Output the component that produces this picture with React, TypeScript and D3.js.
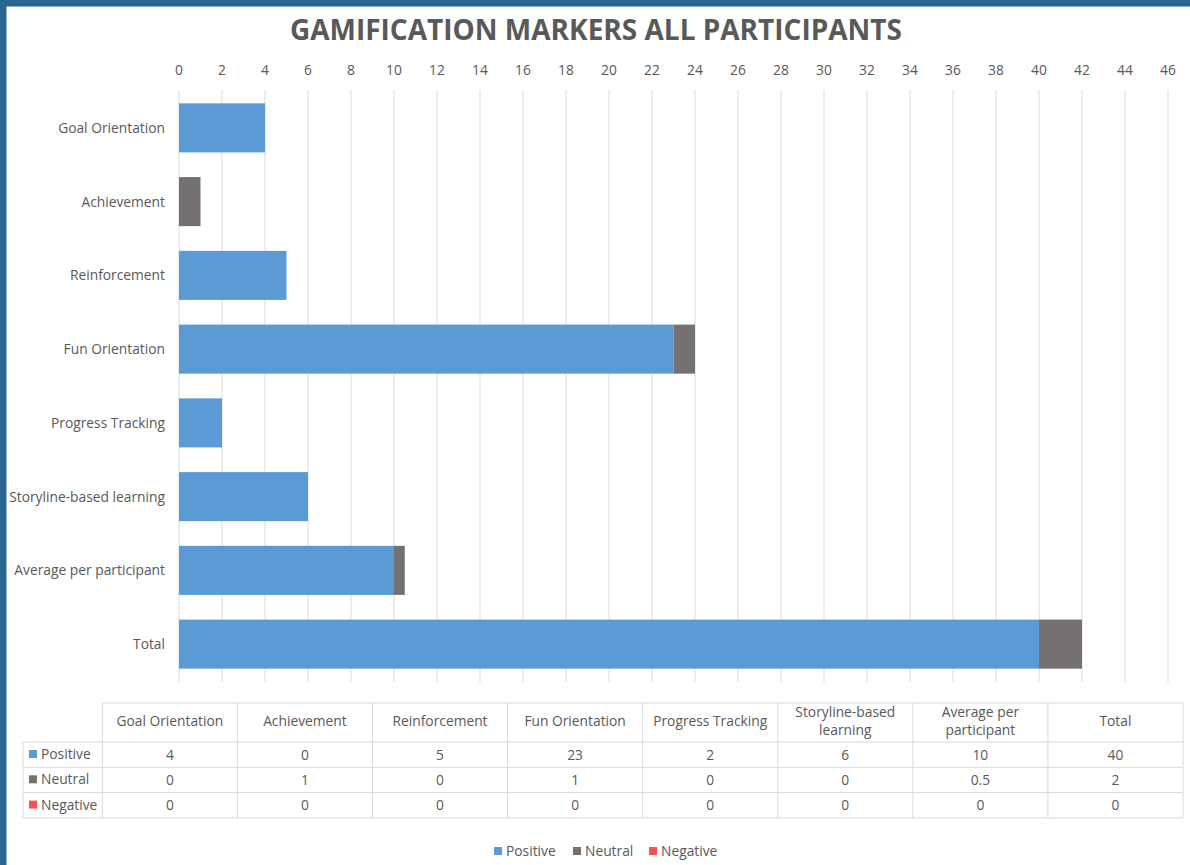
import React from "react";
import * as d3 from "d3";

const categories = [
  "Goal Orientation",
  "Achievement",
  "Reinforcement",
  "Fun Orientation",
  "Progress Tracking",
  "Storyline-based learning",
  "Average per participant",
  "Total",
];
const tableHeaders = [
  ["Goal Orientation"],
  ["Achievement"],
  ["Reinforcement"],
  ["Fun Orientation"],
  ["Progress Tracking"],
  ["Storyline-based", "learning"],
  ["Average per", "participant"],
  ["Total"],
];
const positive = [4, 0, 5, 23, 2, 6, 10, 40];
const neutral = [0, 1, 0, 1, 0, 0, 0.5, 2];
const negative = [0, 0, 0, 0, 0, 0, 0, 0];
const seriesNames = ["Positive", "Neutral", "Negative"];
const seriesColors = ["#5B9BD5", "#767171", "#FF4F4F"];
const xTicks = d3.range(0, 47, 2);
const title = "GAMIFICATION MARKERS ALL PARTICIPANTS";

const W = 1190;
const H = 865;
const FONT = "'Open Sans', sans-serif";
const TXT = "#595959";
const GRID = "#D9D9D9";

export default function App() {
  const x = d3.scaleLinear().domain([0, 46]).range([179, 1168]);
  const y = d3.scaleBand<string>().domain(categories).range([91, 681]).paddingInner(0.335).paddingOuter(0.1675);
  const series = [positive, neutral, negative];
  const stacked = categories.map((_, i) => {
    let acc = 0;
    return series.map((s) => {
      const x0 = acc;
      acc += s[i];
      return [x0, acc];
    });
  });

  const colX = d3.scaleBand<number>().domain(d3.range(8)).range([102.3, 1183]);
  const tableTop = 703;
  const headerBottom = 742;
  const rowH = 25.3;
  const legendLeft = 23;

  const legendItems = seriesNames.map((n, i) => ({ n, c: seriesColors[i] }));
  const legendWidths = [66, 63, 75];
  const legendStart = 494;

  return (
    <div style={{ position: "absolute", left: 0, top: 0 }}>
      <svg width={W} height={H} style={{ display: "block", fontFamily: FONT }}>
        <rect x={0} y={0} width={W} height={H} fill="#fff" />
        <rect x={0} y={0} width={W} height={6.5} fill="#286591" />
        <rect x={0} y={0} width={6.5} height={H} fill="#286591" />
        <text x={596} y={40} textAnchor="middle" fontSize={28} fontWeight={700} fill={TXT}>
          {title}
        </text>
        {xTicks.map((t) => (
          <g key={t}>
            <line x1={x(t)} x2={x(t)} y1={90} y2={682} stroke={GRID} strokeWidth={1} />
            <text x={x(t)} y={75} textAnchor="middle" fontSize={13.8} fill={TXT}>
              {t}
            </text>
          </g>
        ))}
        {categories.map((c, i) => (
          <g key={c}>
            {stacked[i].map(([a, b], k) =>
              b > a ? (
                <rect
                  key={k}
                  x={x(a)}
                  y={y(c)!}
                  width={x(b) - x(a)}
                  height={y.bandwidth()}
                  fill={seriesColors[k]}
                />
              ) : null
            )}
            <text x={165} y={y(c)! + y.bandwidth() / 2 + 5} textAnchor="end" fontSize={13.8} fill={TXT}>
              {c}
            </text>
          </g>
        ))}
        {/* data table */}
        <g stroke={GRID} strokeWidth={1} fill="none">
          <line x1={102.3} x2={1183} y1={tableTop} y2={tableTop} />
          {d3.range(4).map((r) => (
            <line key={r} x1={legendLeft} x2={1183} y1={headerBottom + r * rowH} y2={headerBottom + r * rowH} />
          ))}
          <line x1={legendLeft} x2={legendLeft} y1={headerBottom} y2={headerBottom + 3 * rowH} />
          {d3.range(9).map((k) => {
            const xx = k < 8 ? colX(k)! : 1183;
            return <line key={k} x1={xx} x2={xx} y1={tableTop} y2={headerBottom + 3 * rowH} />;
          })}
        </g>
        {tableHeaders.map((h, k) => (
          <text key={k} x={colX(k)! + colX.bandwidth() / 2} textAnchor="middle" fontSize={13.8} fill={TXT}>
            {h.map((line, j) => (
              <tspan key={j} x={colX(k)! + colX.bandwidth() / 2} y={h.length === 1 ? 726 : 717 + j * 18}>
                {line}
              </tspan>
            ))}
          </text>
        ))}
        {series.map((s, r) => (
          <g key={r}>
            <rect x={29} y={headerBottom + r * rowH + 8} width={8} height={8} fill={seriesColors[r]} />
            <text x={41} y={headerBottom + r * rowH + 17} fontSize={13.8} fill={TXT}>
              {seriesNames[r]}
            </text>
            {s.map((v, k) => (
              <text
                key={k}
                x={colX(k)! + colX.bandwidth() / 2}
                y={headerBottom + r * rowH + 17.5}
                textAnchor="middle"
                fontSize={13.8}
                fill={TXT}
              >
                {v}
              </text>
            ))}
          </g>
        ))}
        {/* legend */}
        {legendItems.map((it, i) => {
          const lx = legendStart + d3.sum(legendWidths.slice(0, i)) + i * 13;
          return (
            <g key={it.n}>
              <rect x={lx} y={847} width={8} height={8} fill={it.c} />
              <text x={lx + 12} y={856} fontSize={13.8} fill={TXT}>
                {it.n}
              </text>
            </g>
          );
        })}
      </svg>
    </div>
  );
}
